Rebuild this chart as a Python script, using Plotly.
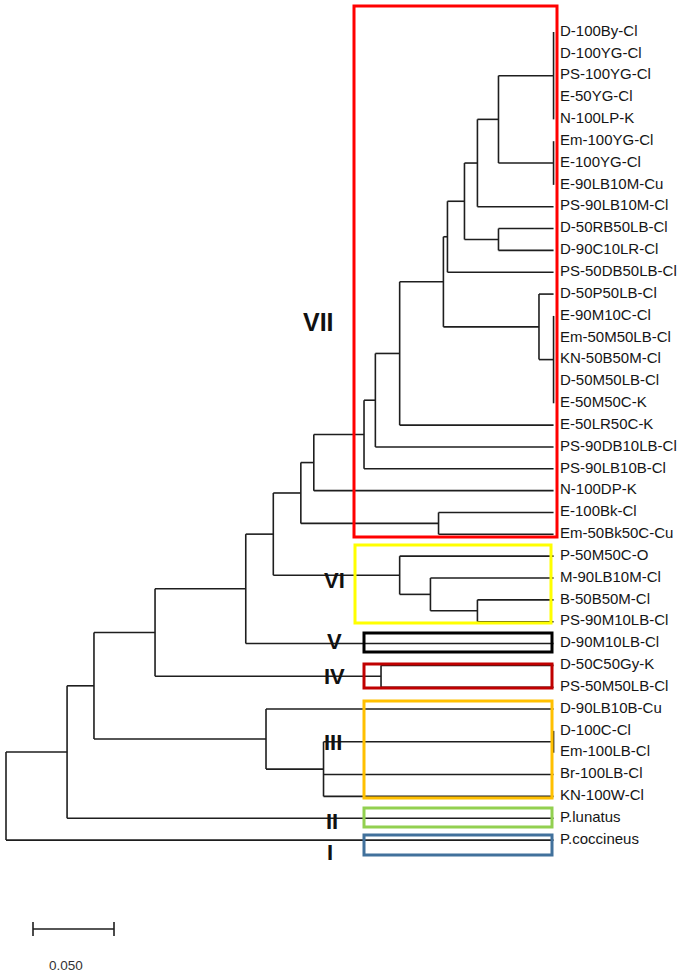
import plotly.graph_objects as go

# ---------------- data ----------------
leaves = [
    "D-100By-Cl", "D-100YG-Cl", "PS-100YG-Cl", "E-50YG-Cl", "N-100LP-K",
    "Em-100YG-Cl", "E-100YG-Cl", "E-90LB10M-Cu", "PS-90LB10M-Cl",
    "D-50RB50LB-Cl", "D-90C10LR-Cl", "PS-50DB50LB-Cl", "D-50P50LB-Cl",
    "E-90M10C-Cl", "Em-50M50LB-Cl", "KN-50B50M-Cl", "D-50M50LB-Cl",
    "E-50M50C-K", "E-50LR50C-K", "PS-90DB10LB-Cl", "PS-90LB10B-Cl",
    "N-100DP-K", "E-100Bk-Cl", "Em-50Bk50C-Cu", "P-50M50C-O",
    "M-90LB10M-Cl", "B-50B50M-Cl", "PS-90M10LB-Cl", "D-90M10LB-Cl",
    "D-50C50Gy-K", "PS-50M50LB-Cl", "D-90LB10B-Cu", "D-100C-Cl",
    "Em-100LB-Cl", "Br-100LB-Cl", "KN-100W-Cl", "P.lunatus", "P.coccineus",
]
leaf_depth = 0.338

# internal nodes: name -> children, and depth (distance from root)
node_names = ["n1_5", "n6_8", "n1_8", "n1_9", "n10_11", "n1_11", "nX",
              "n14_18", "n13_18", "nY", "nZ", "nW", "nV", "nU", "n23_24",
              "nT", "nVIc", "nVIb", "nVI", "nS", "nR", "nIV", "nQ",
              "nIIIc", "nIIIb", "nIII", "nP", "nO", "root"]
node_children = [
    ["D-100By-Cl", "D-100YG-Cl", "PS-100YG-Cl", "E-50YG-Cl", "N-100LP-K"],
    ["Em-100YG-Cl", "E-100YG-Cl", "E-90LB10M-Cu"],
    ["n1_5", "n6_8"],
    ["n1_8", "PS-90LB10M-Cl"],
    ["D-50RB50LB-Cl", "D-90C10LR-Cl"],
    ["n1_9", "n10_11"],
    ["n1_11", "PS-50DB50LB-Cl"],
    ["E-90M10C-Cl", "Em-50M50LB-Cl", "KN-50B50M-Cl", "D-50M50LB-Cl", "E-50M50C-K"],
    ["D-50P50LB-Cl", "n14_18"],
    ["nX", "n13_18"],
    ["nY", "E-50LR50C-K"],
    ["nZ", "PS-90DB10LB-Cl"],
    ["nW", "PS-90LB10B-Cl"],
    ["nV", "N-100DP-K"],
    ["E-100Bk-Cl", "Em-50Bk50C-Cu"],
    ["nU", "n23_24"],
    ["B-50B50M-Cl", "PS-90M10LB-Cl"],
    ["M-90LB10M-Cl", "nVIc"],
    ["P-50M50C-O", "nVIb"],
    ["nT", "nVI"],
    ["nS", "D-90M10LB-Cl"],
    ["D-50C50Gy-K", "PS-50M50LB-Cl"],
    ["nR", "nIV"],
    ["D-100C-Cl", "Em-100LB-Cl"],
    ["nIIIc", "Br-100LB-Cl", "KN-100W-Cl"],
    ["D-90LB10B-Cu", "nIIIb"],
    ["nQ", "nIII"],
    ["nP", "P.lunatus"],
    ["nO", "P.coccineus"],
]
node_depths = [0.338, 0.338, 0.304, 0.291, 0.304, 0.283, 0.2725,
               0.338, 0.329, 0.270, 0.243, 0.228, 0.221, 0.190, 0.267,
               0.182, 0.291, 0.262, 0.243, 0.165, 0.148, 0.2315, 0.092,
               0.338, 0.196, 0.1605, 0.0543, 0.0377, 0.0]

cluster_labels = ["VII", "VI", "V", "IV", "III", "II", "I"]
scale_value = 0.050

# ---------------- geometry helpers (layout only) ----------------
W, H = 685, 976
X0_PX, PX_PER_UNIT = 6.0, 1620.0
Y0_PX, PX_PER_LEAF = 32.0, 21.84
FONT = "Liberation Sans, Arial, sans-serif"


def px2x(p):
    return (p - X0_PX) / PX_PER_UNIT


def px2y(p):
    return (p - Y0_PX) / PX_PER_LEAF


# positions of nodes
pos_x, pos_y = {}, {}
for i, name in enumerate(leaves):
    pos_x[name] = leaf_depth
    pos_y[name] = float(i)
for name, ch, d in zip(node_names, node_children, node_depths):
    pos_x[name] = d
    pos_y[name] = (pos_y[ch[0]] + pos_y[ch[-1]]) / 2.0

lx, ly = [], []
for name, ch in zip(node_names, node_children):
    nx = pos_x[name]
    lx += [nx, nx, None]
    ly += [pos_y[ch[0]], pos_y[ch[-1]], None]
    for c in ch:
        lx += [nx, pos_x[c], None]
        ly += [pos_y[c], pos_y[c], None]

fig = go.Figure()
fig.add_trace(go.Scatter(x=lx, y=ly, mode="lines",
                         line=dict(color="#1e1e1e", width=1.6),
                         hoverinfo="skip", showlegend=False))

# leaf labels
fig.add_trace(go.Scatter(
    x=[px2x(560)] * len(leaves), y=list(range(len(leaves))),
    mode="text", text=leaves, textposition="middle right",
    textfont=dict(family=FONT, size=15, color="#151515"),
    hoverinfo="skip", showlegend=False))

# cluster boxes (pixel rectangles: x0, y0, x1, y1, color, width)
boxes = [
    (354, 6, 557, 537, "#ff0000", 3),
    (355, 545, 551, 623, "#ffff00", 3),
    (364, 633, 552, 652, "#000000", 3),
    (364, 664, 552, 688, "#c00000", 3),
    (364, 701, 552, 798, "#ffc000", 3),
    (364, 808, 552, 827, "#92d050", 3),
    (364, 835, 552, 855, "#41719c", 3),
]
for x0, y0, x1, y1, col, w in boxes:
    fig.add_shape(type="rect", x0=px2x(x0), x1=px2x(x1), y0=px2y(y0), y1=px2y(y1),
                  line=dict(color=col, width=w), fillcolor="rgba(0,0,0,0)", layer="above")

# cluster roman numerals
label_pos = [(318, 322, 25), (334, 580, 22), (334, 641, 22), (334, 676, 22),
             (333, 742, 22), (332, 821, 22), (330, 852, 22)]
for txt, (px, py, fs) in zip(cluster_labels, label_pos):
    fig.add_annotation(x=px2x(px), y=px2y(py), text="<b>%s</b>" % txt, showarrow=False,
                       xanchor="center", yanchor="middle",
                       font=dict(family=FONT, size=fs, color="#111"))

# scale bar
sb_x0 = px2x(33)
sb_y = px2y(929)
fig.add_trace(go.Scatter(
    x=[sb_x0, sb_x0 + scale_value, None, sb_x0, sb_x0, None, sb_x0 + scale_value, sb_x0 + scale_value],
    y=[sb_y, sb_y, None, px2y(922), px2y(936), None, px2y(922), px2y(936)],
    mode="lines", line=dict(color="#1e1e1e", width=1.6), hoverinfo="skip", showlegend=False))
fig.add_annotation(x=px2x(66), y=px2y(965), text="%.3f" % scale_value, showarrow=False,
                   xanchor="center", yanchor="middle",
                   font=dict(family=FONT, size=13.5, color="#333"))

fig.update_layout(
    width=W, height=H, margin=dict(l=0, r=0, t=0, b=0),
    paper_bgcolor="white", plot_bgcolor="white",
    xaxis=dict(range=[px2x(0), px2x(W)], visible=False, fixedrange=True),
    yaxis=dict(range=[px2y(H), px2y(0)], visible=False, fixedrange=True),
)
fig.write_html("out.html", config={"displayModeBar": False},
               post_script="document.body.style.margin='0';document.body.style.overflow='hidden';")
